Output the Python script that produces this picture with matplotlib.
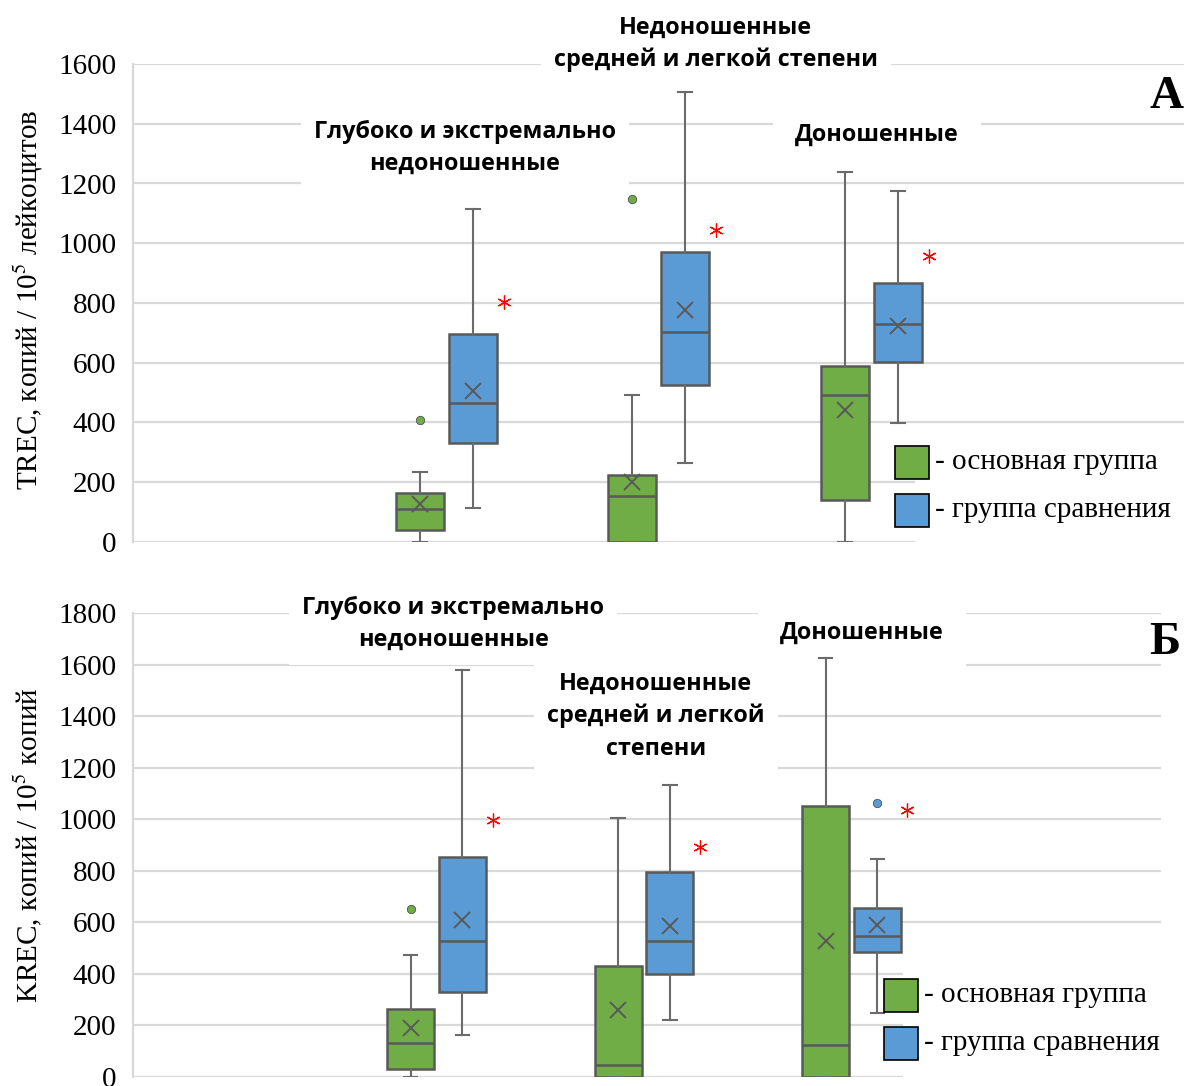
import matplotlib
matplotlib.use("Agg")
import matplotlib.pyplot as plt
from matplotlib.patches import Rectangle

W, H = 1184, 1086

groups_a = ["Глубоко и экстремально\nнедоношенные",
            "Недоношенные\nсредней и легкой степени",
            "Доношенные"]
groups_b = ["Глубоко и экстремально\nнедоношенные",
            "Недоношенные\nсредней и легкой\nстепени",
            "Доношенные"]

# (whislo, q1, med, q3, whishi, mean, fliers)
trec_main = [(0, 40, 112, 165, 233, 127, [408]),
             (0, 0, 153, 225, 492, 201, [1148]),
             (0, 141, 492, 589, 1238, 442, [])]
trec_cmp = [(115, 332, 465, 697, 1113, 507, []),
            (264, 525, 703, 971, 1506, 777, []),
            (398, 602, 730, 867, 1175, 723, [])]
trec_star = [803, 1044, 957]

krec_main = [(0, 31, 132, 262, 473, 190, [652]),
             (0, 0, 47, 432, 1005, 260, []),
             (0, 0, 124, 1051, 1626, 527, [])]
krec_cmp = [(163, 330, 527, 855, 1580, 609, []),
            (222, 400, 528, 797, 1131, 587, []),
            (248, 486, 547, 657, 847, 590, [1063])]
krec_star = [997, 892, 1036]

GREEN = "#70AD47"
BLUE = "#5B9BD5"
EDGE = "#595959"
GRID = "#D9D9D9"
SERIF = "Liberation Serif"

plt.rcParams["mathtext.fontset"] = "stix"


def to_stats(rows):
    return [dict(whislo=r[0], q1=r[1], med=r[2], q3=r[3], whishi=r[4],
                 mean=r[5], fliers=r[6]) for r in rows]


def draw_boxes(ax, main, cmp, stars, ymax, step):
    pos = [1, 2, 3]
    for rows, color, off in [(main, GREEN, -0.125), (cmp, BLUE, 0.125)]:
        ax.bxp(to_stats(rows), positions=[p + off for p in pos],
               widths=0.226, capwidths=0.066, patch_artist=True,
               showmeans=True, manage_ticks=False,
               boxprops=dict(facecolor=color, edgecolor=EDGE, linewidth=1.8),
               medianprops=dict(color=EDGE, linewidth=1.8),
               whiskerprops=dict(color="#6b6b6b", linewidth=1.5),
               capprops=dict(color="#6b6b6b", linewidth=1.5),
               meanprops=dict(marker="x", markeredgecolor=EDGE,
                              markersize=11, markeredgewidth=1.4),
               flierprops=dict(marker="o", markerfacecolor=color,
                               markeredgecolor="#4f4f4f", markersize=6,
                               markeredgewidth=0.6))
    ax.plot([p + 0.27 for p in pos], stars, linestyle="none",
            marker=(6, 2, 0), color="red", markersize=10,
            markeredgewidth=0.9, zorder=4)
    ax.set_ylim(0, ymax)
    ax.set_yticks(range(0, ymax + 1, step))
    ax.set_xticks([])
    ax.yaxis.grid(True, color=GRID, linewidth=1.6)
    ax.set_axisbelow(True)
    for s in ["top", "right", "bottom"]:
        ax.spines[s].set_visible(False)
    ax.spines["left"].set_color(GRID)
    ax.spines["left"].set_linewidth(1.6)
    ax.tick_params(axis="y", length=0, pad=12, labelsize=21)
    for lab in ax.get_yticklabels():
        lab.set_fontfamily(SERIF)


def group_label(ax, x, y, text, pad=0.6):
    ax.text(x, y, text, ha="center", va="center", fontsize=16.8,
            fontweight="bold", family="Open Sans", linespacing=1.45,
            zorder=1.5, clip_on=False,
            bbox=dict(facecolor="white", edgecolor="none", pad=pad * 16))


def legend(fig, left, top, bg_left):
    fig.add_artist(Rectangle((bg_left / W, 1 - (top + 118) / H),
                             (W - bg_left) / W, 122 / H,
                             transform=fig.transFigure,
                             facecolor="white", edgecolor="none"))
    for i, (color, text) in enumerate([(GREEN, "- основная группа"),
                                       (BLUE, "- группа сравнения")]):
        y = top + 14 + i * 48
        fig.add_artist(Rectangle((left / W, 1 - (y + 33) / H), 34 / W, 33 / H,
                                 transform=fig.transFigure, facecolor=color,
                                 edgecolor="black", linewidth=1.2))
        fig.text((left + 40) / W, 1 - (y + 16) / H, text, ha="left",
                 va="center", fontsize=21, family=SERIF)


fig = plt.figure(figsize=(W / 100, H / 100), dpi=100)

ax1 = fig.add_axes([133 / W, 1 - 542 / H, (W - 133) / W, (542 - 64) / H])
draw_boxes(ax1, trec_main, trec_cmp, trec_star, 1600, 200)
ax1.set_xlim(-0.475, 4.471)
group_label(ax1, 1.087, 1319, groups_a[0])
group_label(ax1, 2.268, 1667, groups_a[1])
group_label(ax1, 3.026, 1362, groups_a[2], pad=1.0)

ax2 = fig.add_axes([133 / W, 1 - 1077 / H, (1161 - 133) / W, (1077 - 613) / H])
draw_boxes(ax2, krec_main, krec_cmp, krec_star, 1800, 200)
ax2.set_xlim(-0.463, 4.492)
group_label(ax2, 1.08, 1757, groups_b[0])
group_label(ax2, 2.057, 1400, groups_b[1])
group_label(ax2, 3.05, 1722, groups_b[2], pad=1.0)

fig.text(28 / W, 1 - 300 / H, "TREC, копий / 10$^{5}$ лейкоцитов",
         rotation=90, ha="center", va="center", fontsize=21, family=SERIF)
fig.text(28 / W, 1 - 845 / H, "KREC, копий / 10$^{5}$ копий",
         rotation=90, ha="center", va="center", fontsize=21, family=SERIF)

fig.text(1167 / W, 1 - 97 / H, "А", ha="center", va="center",
         fontsize=34, fontweight="bold", family=SERIF)
fig.text(1165 / W, 1 - 643 / H, "Б", ha="center", va="center",
         fontsize=34, fontweight="bold", family=SERIF)

legend(fig, 895, 432, 915)
legend(fig, 884, 965, 903)

fig.savefig("out.png", dpi=100, facecolor="white")
